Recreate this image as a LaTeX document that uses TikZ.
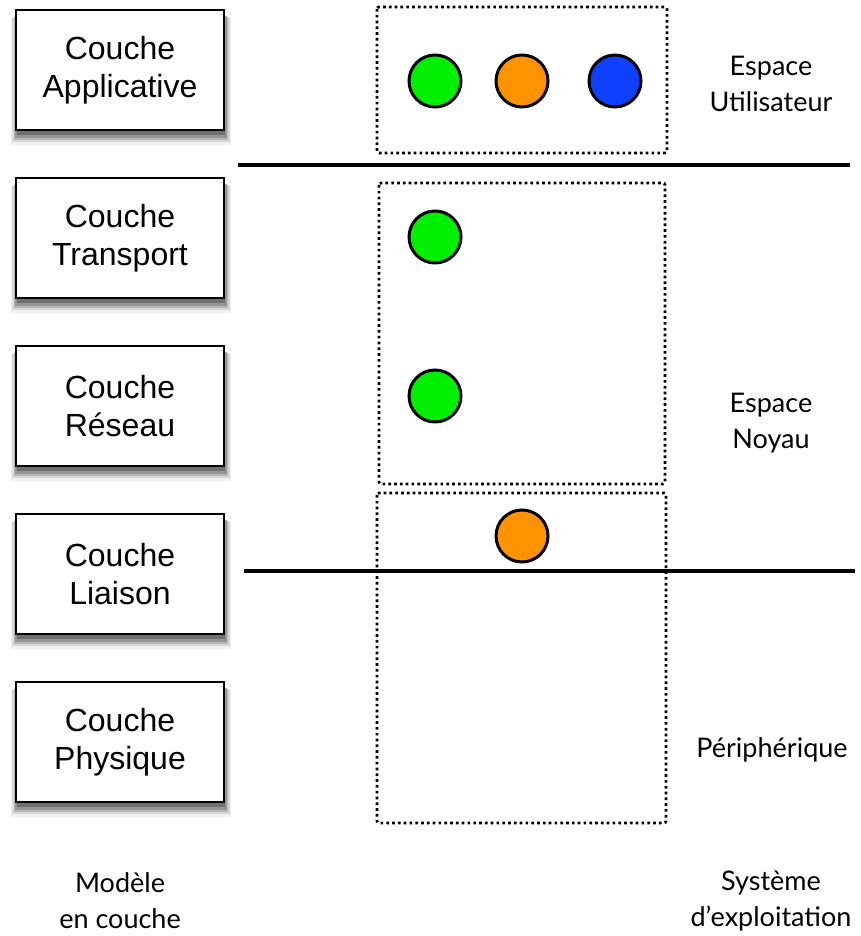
\documentclass[tikz,border=0pt]{standalone}
\usepackage{fontspec}
\setmainfont{Liberation Sans}
\newfontfamily\gillfont{Lato}
\usetikzlibrary{shadows}
\definecolor{cgreen}{RGB}{0,238,0}
\definecolor{corange}{RGB}{255,148,0}
\definecolor{cblue}{RGB}{16,64,255}
\tikzset{
  layerbox/.style={draw=black, line width=2pt, fill=white, minimum width=208pt, minimum height=120pt,
    align=center, font=\fontsize{32}{38}\selectfont, inner sep=0pt,
    general shadow={shadow xshift=1pt, shadow yshift=-11pt, shadow scale=1.06, fill=black, opacity=0.06, draw=none},
    general shadow={shadow xshift=1pt, shadow yshift=-9pt, shadow scale=1.045, fill=black, opacity=0.1, draw=none},
    general shadow={shadow xshift=1pt, shadow yshift=-8pt, shadow scale=1.03, fill=black, opacity=0.14, draw=none},
    general shadow={shadow xshift=1pt, shadow yshift=-7pt, shadow scale=1.015, fill=black, opacity=0.18, draw=none},
    general shadow={shadow xshift=1pt, shadow yshift=-5pt, shadow scale=1.0, fill=black, opacity=0.25, draw=none}},
  proc/.style={circle, draw=black, line width=3pt, minimum size=52pt, inner sep=0pt},
  region/.style={draw=black, line width=2.7pt, dash pattern=on 2.7pt off 3.1pt, rounded corners=2pt},
  sep/.style={draw=black, line width=4pt},
  lab/.style={align=center, font=\gillfont\fontsize{27}{36}\selectfont, inner sep=0pt}
}
\begin{document}
\begin{tikzpicture}[x=1pt,y=1pt]
\useasboundingbox[fill=white] (0,0) rectangle (861,936);
% layer boxes
\node[layerbox] (app) at (120,866) {Couche\\Applicative};
\node[layerbox] (tra) at (120,698) {Couche\\Transport};
\node[layerbox] (res) at (120,530) {Couche\\R\'eseau};
\node[layerbox] (lia) at (120,362) {Couche\\Liaison};
\node[layerbox] (phy) at (120,194) {Couche\\Physique};
% regions
\draw[region] (377,929) rectangle (667,783);
\draw[region] (379,753) rectangle (665,452);
\draw[region] (377,443) rectangle (666,113);
% separators
\coordinate (s1a) at (238,771);
\coordinate (s1b) at (850,771);
\coordinate (s2a) at (244,365);
\coordinate (s2b) at (855,365);
\draw[sep] (s1a) -- (s1b);
\draw[sep] (s2a) -- (s2b);
% processes
\node[proc, fill=cgreen] (g1) at (435,855) {};
\node[proc, fill=corange] (o1) at (522,855) {};
\node[proc, fill=cblue] (b1) at (615,855) {};
\node[proc, fill=cgreen] (g2) at (435,699) {};
\node[proc, fill=cgreen] (g3) at (435,540) {};
\node[proc, fill=corange] (o2) at (522,400) {};
% labels
\node[lab] (eu) at (771,852) {Espace\\Utilisateur};
\node[lab] (en) at (771,513) {Espace\\Noyau};
\node[lab] (pe) at (772,186) {P\'eriph\'erique};
\node[lab] (mc) at (120,35) {Mod\`ele\\en couche};
\node[lab] (se) at (771,35) {Syst\`eme\\d’exploitation};
\end{tikzpicture}
\end{document}
